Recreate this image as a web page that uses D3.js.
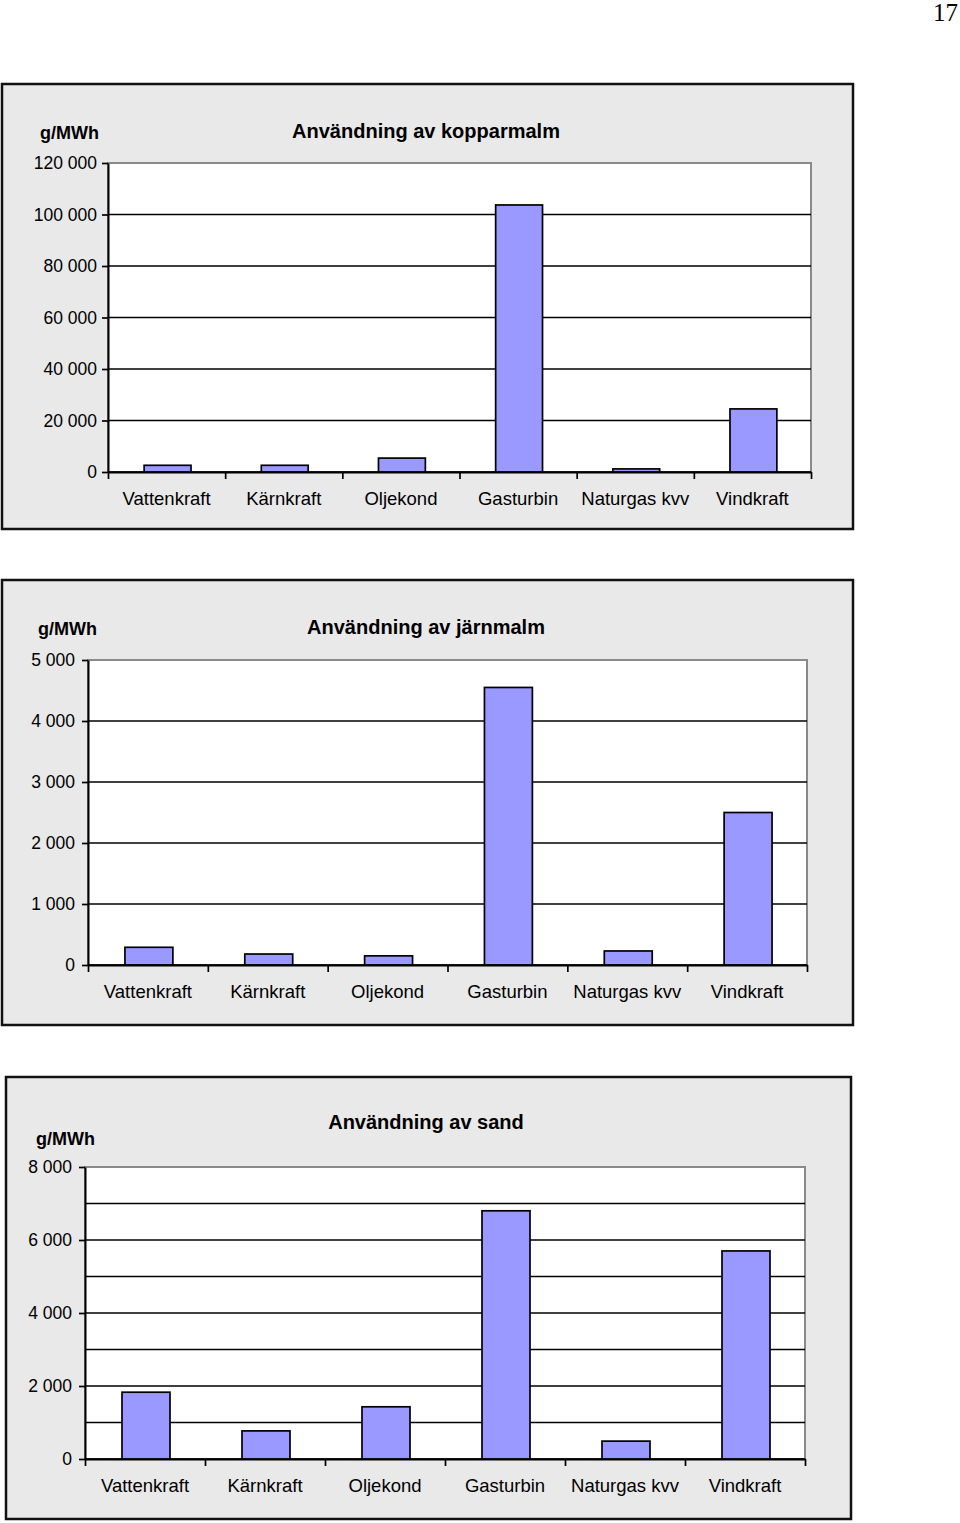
<!DOCTYPE html>
<html>
<head>
<meta charset="utf-8">
<script src="https://cdn.jsdelivr.net/npm/d3@7"></script>
<style>
  html, body { margin: 0; padding: 0; background: #fff; }
  svg { display: block; }
  text { font-family: "Liberation Sans", Arial, Helvetica, sans-serif; fill: #000; }
</style>
</head>
<body>
<svg id="page" width="960" height="1523"></svg>
<script>
// ---------------- DATA ----------------
const categories = ["Vattenkraft", "Kärnkraft", "Oljekond", "Gasturbin", "Naturgas kvv", "Vindkraft"];

const kopparTitle = "Användning av kopparmalm";
const kopparValues = [2600, 2600, 5400, 103700, 1200, 24500];
const kopparTicks = [0, 20000, 40000, 60000, 80000, 100000, 120000];
const kopparGrid = [0, 20000, 40000, 60000, 80000, 100000];

const jarnTitle = "Användning av järnmalm";
const jarnValues = [290, 180, 150, 4550, 230, 2500];
const jarnTicks = [0, 1000, 2000, 3000, 4000, 5000];
const jarnGrid = [0, 1000, 2000, 3000, 4000];

const sandTitle = "Användning av sand";
const sandValues = [1830, 770, 1430, 6800, 490, 5700];
const sandTicks = [0, 2000, 4000, 6000, 8000];
const sandGrid = [0, 1000, 2000, 3000, 4000, 5000, 6000, 7000];

const unitLabel = "g/MWh";
const pageNumber = "17";

// ---------------- RENDER ----------------
const svg = d3.select("#page");
const locale = d3.formatLocale({ decimal: ",", thousands: " ", grouping: [3], currency: ["", ""] });
const fmt = locale.format(",d");

svg.append("text")
  .attr("x", 958).attr("y", 21)
  .attr("text-anchor", "end")
  .style("font-family", "'Liberation Serif', 'DejaVu Serif', serif")
  .style("font-size", "25px")
  .text(pageNumber);

function drawChart(cfg) {
  const g = svg.append("g");
  // panel
  g.append("rect")
    .attr("x", cfg.panel[0]).attr("y", cfg.panel[1])
    .attr("width", cfg.panel[2]).attr("height", cfg.panel[3])
    .attr("fill", "#e9e9e9").attr("stroke", "#111").attr("stroke-width", 2.5);

  const p = cfg.plot; // left, top, right, bottom
  const x = d3.scaleBand().domain(cfg.categories).range([p[0], p[2]])
    .paddingInner(0.6).paddingOuter(0.3);
  const y = d3.scaleLinear().domain([0, cfg.max]).range([p[3], p[1]]);
  const xb = d3.scaleLinear().domain([0, cfg.categories.length]).range([p[0], p[2]]);

  // plot area
  g.append("rect")
    .attr("x", p[0]).attr("y", p[1]).attr("width", p[2] - p[0]).attr("height", p[3] - p[1])
    .attr("fill", "#fff").attr("stroke", "#8a8a8a").attr("stroke-width", 2);

  // gridlines
  g.append("g").selectAll("line").data(cfg.grid).join("line")
    .attr("x1", p[0]).attr("x2", p[2])
    .attr("y1", d => y(d)).attr("y2", d => y(d))
    .attr("stroke", "#000").attr("stroke-width", 1.7);

  // bars
  g.append("g").selectAll("rect").data(cfg.values).join("rect")
    .attr("x", (d, i) => x(cfg.categories[i]) + 1)
    .attr("width", x.bandwidth())
    .attr("y", d => y(d))
    .attr("height", d => y(0) - y(d))
    .attr("fill", "#9999ff").attr("stroke", "#000").attr("stroke-width", 1.7);

  // y axis
  const ya = g.append("g").attr("transform", `translate(${p[0]},0)`)
    .call(d3.axisLeft(y).tickValues(cfg.ticks).tickFormat(fmt).tickSize(6).tickSizeOuter(0).tickPadding(cfg.tickPad));
  ya.select(".domain").attr("stroke", "#000").attr("stroke-width", 2);
  ya.selectAll(".tick line").attr("stroke", "#000").attr("stroke-width", 1.7);
  ya.selectAll("text").style("font-size", "17.5px").attr("fill", "#000");

  // x axis boundary ticks
  const xt = g.append("g").attr("transform", `translate(0,${p[3]})`)
    .call(d3.axisBottom(xb).tickValues(d3.range(cfg.categories.length + 1)).tickFormat("").tickSize(7).tickSizeOuter(0));
  xt.select(".domain").attr("stroke", "#000").attr("stroke-width", 2);
  xt.selectAll(".tick line").attr("stroke", "#000").attr("stroke-width", 1.7);

  // x axis labels
  const xa = g.append("g").attr("transform", `translate(0,${p[3]})`)
    .call(d3.axisBottom(x).tickSize(0).tickPadding(20));
  xa.select(".domain").remove();
  xa.selectAll("text").style("font-size", "18.5px").attr("fill", "#000");

  // title & unit
  g.append("text").attr("x", cfg.titleX).attr("y", cfg.titleY)
    .attr("text-anchor", "middle").style("font-size", "20px").style("font-weight", "bold")
    .text(cfg.title);
  g.append("text").attr("x", cfg.unitX).attr("y", cfg.unitY)
    .style("font-size", "18px").style("font-weight", "bold")
    .text(unitLabel);
}

drawChart({
  panel: [2, 84, 851, 445], plot: [108, 163, 811, 472],
  categories, values: kopparValues, ticks: kopparTicks, grid: kopparGrid, max: 120000,
  title: kopparTitle, titleX: 426, titleY: 138, unitX: 40, unitY: 139, tickPad: 5
});
drawChart({
  panel: [2, 580, 851, 445], plot: [88, 660, 807, 965],
  categories, values: jarnValues, ticks: jarnTicks, grid: jarnGrid, max: 5000,
  title: jarnTitle, titleX: 426, titleY: 634, unitX: 38, unitY: 635, tickPad: 7
});
drawChart({
  panel: [6, 1077, 845, 442], plot: [85, 1167, 805, 1459],
  categories, values: sandValues, ticks: sandTicks, grid: sandGrid, max: 8000,
  title: sandTitle, titleX: 426, titleY: 1129, unitX: 36, unitY: 1145, tickPad: 7
});
</script>
</body>
</html>
